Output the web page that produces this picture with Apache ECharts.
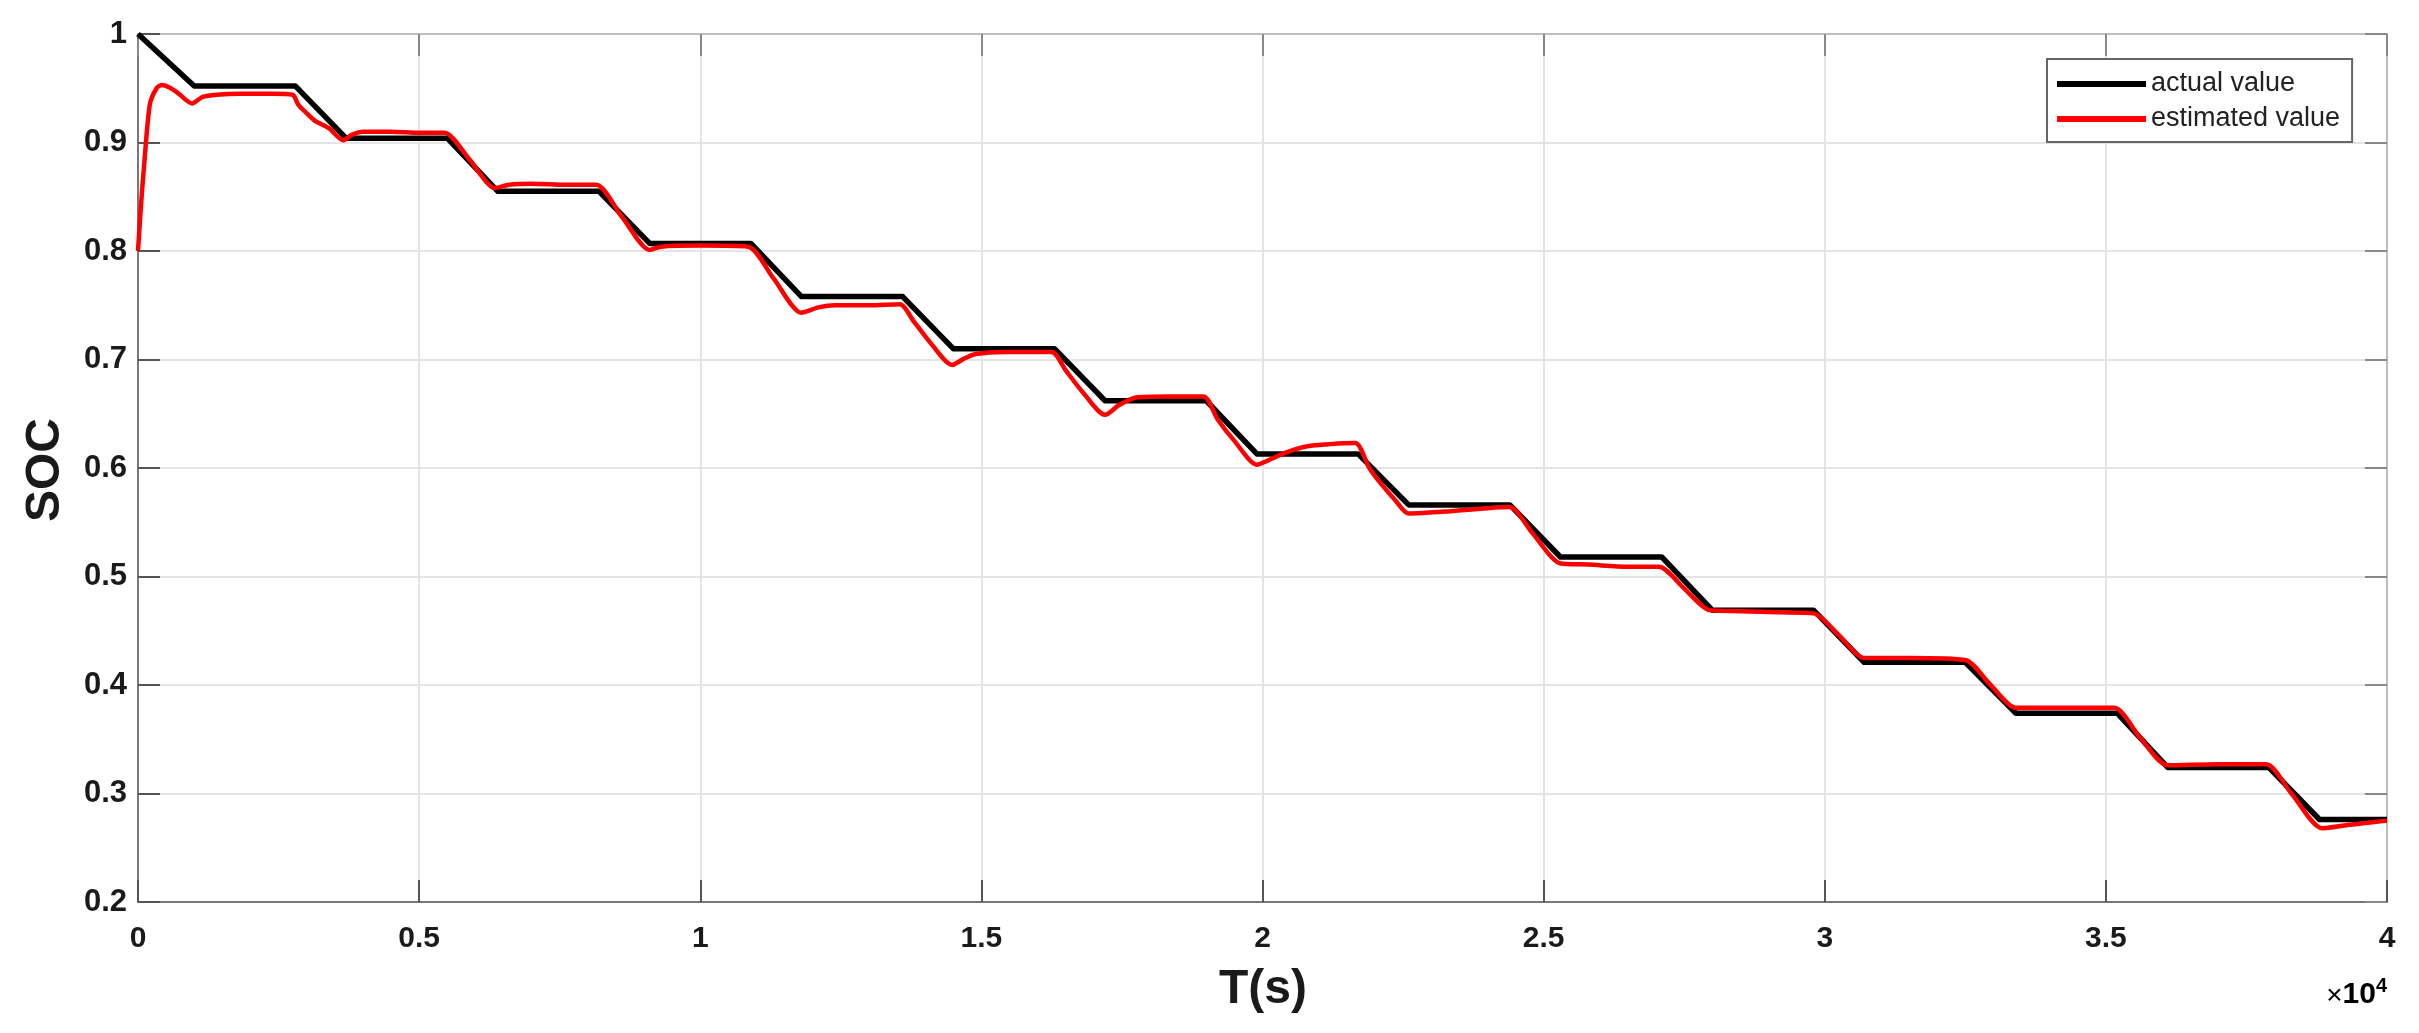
<!DOCTYPE html>
<html>
<head>
<meta charset="utf-8">
<script src="https://cdn.jsdelivr.net/npm/echarts@6/dist/echarts.min.js"></script>
<style>
  html, body { margin: 0; padding: 0; background: #ffffff; }
  #chart { width: 2419px; height: 1033px; }
</style>
</head>
<body>
<div id="chart"></div>
<script>
// ---- data (time in s, SOC) ----
const seriesNames = ['actual value', 'estimated value'];
const actualT = [0, 1000, 2800, 3700, 5500, 6400, 8200, 9100, 10900, 11800, 13600, 14500, 16300, 17200, 19000, 19900, 21700, 22600, 24400, 25300, 27100, 28000, 29800, 30700, 32500, 33400, 35200, 36100, 37900, 38800, 40000];
const actualV = [1.000, 0.952, 0.952, 0.904, 0.904, 0.855, 0.855, 0.807, 0.807, 0.758, 0.758, 0.710, 0.710, 0.662, 0.662, 0.613, 0.613, 0.566, 0.566, 0.518, 0.518, 0.469, 0.469, 0.421, 0.421, 0.374, 0.374, 0.324, 0.324, 0.276, 0.276];
const estT = [0, 50, 110, 210, 330, 420, 550, 700, 960, 1150, 1400, 1800, 2400, 2750, 2850, 3000, 3150, 3400, 3650, 3800, 4000, 4500, 5000, 5450,
  5900, 6350, 6600, 7000, 7600, 8150,
  8600, 9100, 9300, 10000, 10850,
  11300, 11800, 12100, 12400, 13000, 13550,
  13800, 14100, 14480, 14700, 14900, 15400, 16250,
  16500, 16800, 17200, 17450, 17750, 18300, 18950,
  19200, 19500, 19900, 20100, 20400, 20800, 21200, 21650,
  21900, 22100, 22350, 22600, 23300, 24000, 24400,
  24800, 25300, 25800, 26500, 27050,
  27500, 27950, 28500, 29200, 29800,
  30250, 30700, 31500, 32500,
  32950, 33400, 34200, 35150,
  35600, 36100, 37000, 37850,
  38300, 38850, 39300, 40000];
const estV = [0.800, 0.840, 0.880, 0.935, 0.950, 0.953, 0.951, 0.946, 0.936, 0.942, 0.944, 0.945, 0.945, 0.944, 0.935, 0.927, 0.920, 0.913, 0.902, 0.907, 0.910, 0.910, 0.909, 0.909,
  0.884, 0.858, 0.861, 0.862, 0.861, 0.861,
  0.832, 0.801, 0.804, 0.805, 0.804,
  0.775, 0.743, 0.748, 0.750, 0.750, 0.751,
  0.735, 0.715, 0.695, 0.701, 0.705, 0.707, 0.707,
  0.690, 0.670, 0.649, 0.658, 0.665, 0.666, 0.666,
  0.645, 0.625, 0.603, 0.607, 0.614, 0.620, 0.622, 0.623,
  0.600, 0.586, 0.571, 0.558, 0.560, 0.563, 0.564,
  0.540, 0.512, 0.511, 0.509, 0.509,
  0.489, 0.469, 0.468, 0.467, 0.466,
  0.446, 0.425, 0.425, 0.423,
  0.400, 0.379, 0.379, 0.379,
  0.352, 0.326, 0.327, 0.327,
  0.300, 0.268, 0.271, 0.275];
const xTickValues = [0, 5000, 10000, 15000, 20000, 25000, 30000, 35000, 40000];
const xTickLabels = ['0', '0.5', '1', '1.5', '2', '2.5', '3', '3.5', '4'];
const yTickValues = [0.2, 0.3, 0.4, 0.5, 0.6, 0.7, 0.8, 0.9, 1.0];
const yTickLabels = ['0.2', '0.3', '0.4', '0.5', '0.6', '0.7', '0.8', '0.9', '1'];
const xTitle = 'T(s)';
const yTitle = 'SOC';

// ---- chart ----
const FONT = '"Liberation Sans", Arial, Helvetica, sans-serif';
const chart = echarts.init(document.getElementById('chart'), null, { renderer: 'canvas' });
const zip = (a, b) => a.map((v, i) => [v, b[i]]);
function labelFor(values, labels, v) {
  for (let i = 0; i < values.length; i++) if (Math.abs(values[i] - v) < 1e-6) return labels[i];
  return '';
}
const gridL = 138, gridT = 34, gridR = 32, gridB = 131;
const tickStyle = { show: true, inside: true, length: 22, lineStyle: { color: '#555', width: 2 } };
const tickStyleLight = { show: true, inside: true, length: 22, lineStyle: { color: '#888', width: 2 } };

chart.setOption({
  backgroundColor: '#ffffff',
  animation: false,
  grid: { left: gridL, top: gridT, right: gridR, bottom: gridB, containLabel: false },
  legend: {
    show: true,
    data: seriesNames,
    orient: 'vertical',
    left: 2047, top: 59,
    padding: [10, 12, 8, 10],
    itemGap: 5,
    itemWidth: 89, itemHeight: 6,
    itemTextGap: 7,
    itemStyle: { borderWidth: 0 },
    icon: 'rect',
    backgroundColor: '#ffffff',
    borderColor: '#666666', borderWidth: 2, borderRadius: 0,
    textStyle: { fontFamily: FONT, fontSize: 27, color: '#222', lineHeight: 30 }
  },
  xAxis: [{
    type: 'value', min: 0, max: 40000, interval: 5000, position: 'bottom',
    axisLine: { show: true, onZero: false, lineStyle: { color: '#777', width: 2 } },
    axisTick: tickStyle,
    axisLabel: { show: true, margin: 22, fontFamily: FONT, fontSize: 30, fontWeight: 'bold', color: '#1a1a1a',
      formatter: v => labelFor(xTickValues, xTickLabels, v) },
    splitLine: { show: true, lineStyle: { color: '#e4e4e4', width: 2 } }
  }, {
    type: 'value', min: 0, max: 40000, interval: 5000, position: 'top',
    axisLine: { show: true, onZero: false, lineStyle: { color: '#bdbdbd', width: 2 } },
    axisTick: tickStyleLight,
    axisLabel: { show: false },
    splitLine: { show: false }
  }],
  yAxis: [{
    type: 'value', min: 0.2, max: 1.0, interval: 0.1, position: 'left',
    axisLine: { show: true, onZero: false, lineStyle: { color: '#777', width: 2 } },
    axisTick: tickStyle,
    axisLabel: { show: true, margin: 11, fontFamily: FONT, fontSize: 31, fontWeight: 'bold', color: '#1a1a1a',
      formatter: v => labelFor(yTickValues, yTickLabels, v) },
    splitLine: { show: true, lineStyle: { color: '#e4e4e4', width: 2 } }
  }, {
    type: 'value', min: 0.2, max: 1.0, interval: 0.1, position: 'right',
    axisLine: { show: true, onZero: false, lineStyle: { color: '#bdbdbd', width: 2 } },
    axisTick: tickStyleLight,
    axisLabel: { show: false },
    splitLine: { show: false }
  }],
  series: [{
    name: seriesNames[0], type: 'line', xAxisIndex: 0, yAxisIndex: 0,
    data: zip(actualT, actualV),
    showSymbol: false, symbol: 'none', smooth: false,
    lineStyle: { color: '#000000', width: 5.5, join: 'round' },
    itemStyle: { color: '#000000' },
    z: 2
  }, {
    name: seriesNames[1], type: 'line', xAxisIndex: 0, yAxisIndex: 0,
    data: zip(estT, estV),
    showSymbol: false, symbol: 'none', smooth: 0.25,
    lineStyle: { color: '#ff0000', width: 4.5, join: 'round' },
    itemStyle: { color: '#ff0000' },
    z: 3
  }],
  graphic: [{
    type: 'text', right: 32, top: 976,
    style: {
      text: '{x|×}{b|10}{s|4}',
      rich: {
        x: { fontFamily: FONT, fontSize: 28, color: '#888', verticalAlign: 'bottom' },
        b: { fontFamily: FONT, fontSize: 30, fontWeight: 'bold', color: '#1a1a1a', verticalAlign: 'bottom' },
        s: { fontFamily: FONT, fontSize: 20, fontWeight: 'bold', color: '#1a1a1a', verticalAlign: 'top', padding: [0, 0, 14, 0] }
      }
    }
  }, {
    type: 'text', x: 1263, y: 990,
    style: { text: xTitle, fontFamily: FONT, fontSize: 48, fontWeight: 'bold', fill: '#1a1a1a', align: 'center', verticalAlign: 'middle' }
  }, {
    type: 'text', x: 46, y: 470, rotation: Math.PI / 2,
    style: { text: yTitle, fontFamily: FONT, fontSize: 48, fontWeight: 'bold', fill: '#1a1a1a', align: 'center', verticalAlign: 'middle' }
  }]
});
</script>
</body>
</html>
